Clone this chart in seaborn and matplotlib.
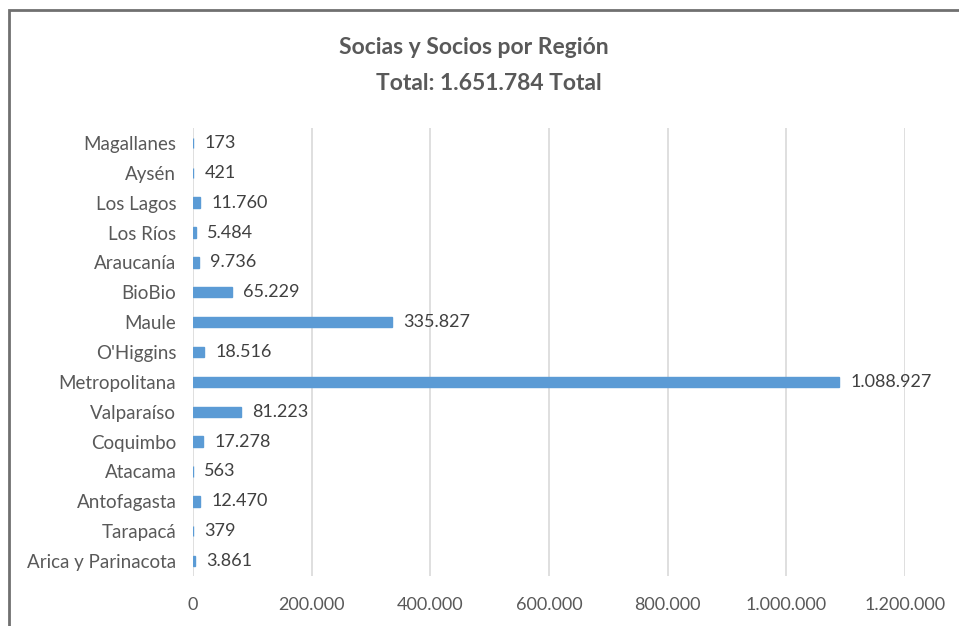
import matplotlib.pyplot as plt
import pandas as pd
import seaborn as sns
from matplotlib.patches import Rectangle

# Data (top to bottom as shown in the chart)
regions = ['Magallanes', 'Aysén', 'Los Lagos', 'Los Ríos', 'Araucanía', 'BioBio',
           'Maule', "O'Higgins", 'Metropolitana', 'Valparaíso', 'Coquimbo',
           'Atacama', 'Antofagasta', 'Tarapacá', 'Arica y Parinacota']
socios = [173, 421, 11760, 5484, 9736, 65229, 335827, 18516, 1088927,
          81223, 17278, 563, 12470, 379, 3861]
x_ticks = [0, 200000, 400000, 600000, 800000, 1000000, 1200000]
total = 1651784


def fmt(v):
    return f'{v:,}'.replace(',', '.')


df = pd.DataFrame({'region': regions, 'socios': socios})

sns.set_style('white')
plt.rcParams['font.family'] = ['Lato', 'DejaVu Sans']

fig = plt.figure(figsize=(9.59, 6.26), dpi=100)
ax = fig.add_axes([193 / 959, 1 - 576 / 626, 712 / 959, 448 / 626])

sns.barplot(data=df, x='socios', y='region', order=regions, orient='h',
            color='#5B9BD5', saturation=1, width=0.35, ax=ax,
            edgecolor='#5B9BD5', linewidth=1)

# Data labels
ax.bar_label(ax.containers[0], labels=[fmt(v) for v in socios], padding=8,
             fontsize=13, color='#404040')

ax.set_xlim(0, 1200000)
ax.set_ylim(14.5, -0.5)
ax.set_xticks(x_ticks)
ax.set_xticklabels([fmt(t) for t in x_ticks], fontsize=13, color='#595959')
ax.tick_params(axis='y', labelsize=13.5, labelcolor='#595959', length=0, pad=12)
ax.tick_params(axis='x', length=0, pad=15)
ax.set_xlabel('')
ax.set_ylabel('')
ax.grid(axis='x', color='#D9D9D9', lw=1.2)
ax.set_axisbelow(True)
for s in ax.spines.values():
    s.set_visible(False)

# Title
fig.text(474 / 959, 1 - 47 / 626, 'Socias y Socios por Región', ha='center', va='center',
         fontsize=16.5, fontweight='bold', color='#595959')
fig.text(489 / 959, 1 - 83 / 626, f'Total: {fmt(total)} Total', ha='center', va='center',
         fontsize=16.5, fontweight='bold', color='#595959')

# Chart border (cropped at right and bottom)
fig.patches.append(Rectangle((9 / 959, -0.1), 1.2, 1.1 - 10 / 626,
                             transform=fig.transFigure, fill=False,
                             edgecolor='#707070', lw=2))

fig.savefig('out.png', dpi=100)
